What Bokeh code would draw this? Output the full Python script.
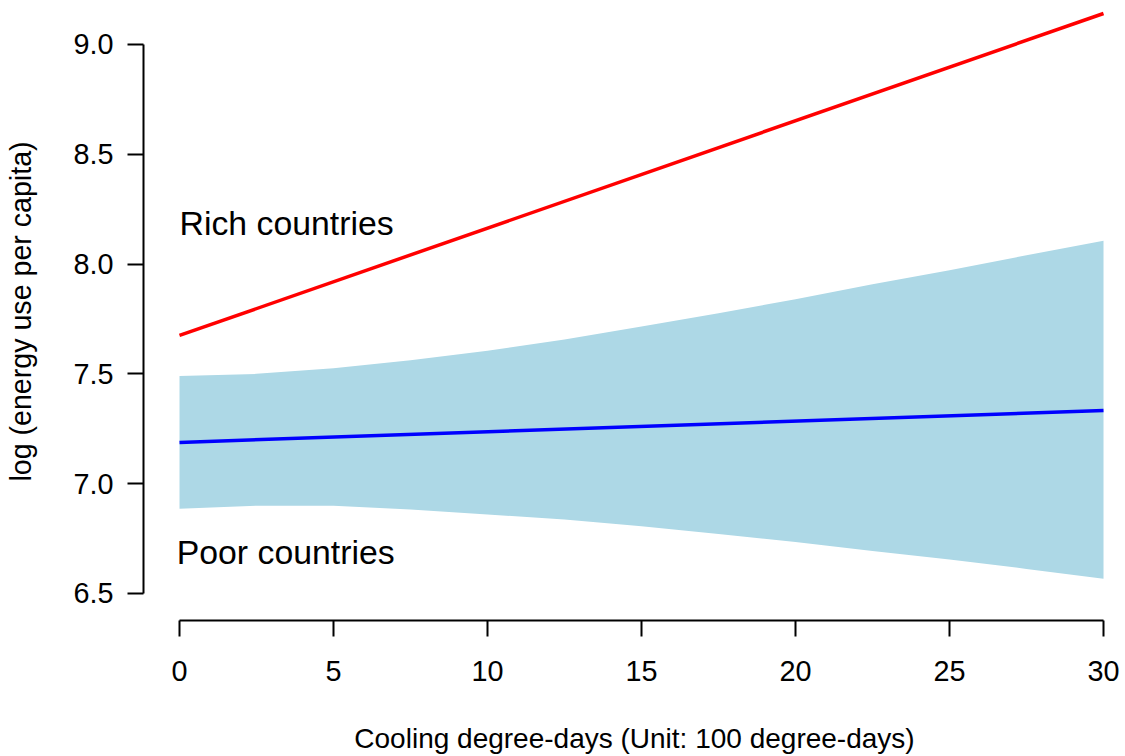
from bokeh.plotting import figure
from bokeh.models import Range1d, FixedTicker, PrintfTickFormatter, Label
from bokeh.embed import file_html
from bokeh.resources import INLINE

# ---- data ----
cdd = [0, 2.5, 5, 7.5, 10, 12.5, 15, 17.5, 20, 22.5, 25, 27.5, 30]
band_upper = [7.490, 7.500, 7.526, 7.562, 7.605, 7.657, 7.716, 7.776, 7.840,
              7.908, 7.972, 8.040, 8.106]
band_lower = [6.886, 6.900, 6.900, 6.882, 6.860, 6.837, 6.806, 6.771, 6.735,
              6.693, 6.655, 6.612, 6.567]

fit_x = [0, 30]
rich_fit = [7.675, 9.141]
poor_fit = [7.188, 7.333]

x_ticks = [0, 5, 10, 15, 20, 25, 30]
y_ticks = [6.5, 7.0, 7.5, 8.0, 8.5, 9.0]

x_title = "Cooling degree-days (Unit: 100 degree-days)"
y_title = "log (energy use per capita)"
rich_label = "Rich countries"
poor_label = "Poor countries"

# ---- layout ----
W, H = 1125, 756
LEFT, RIGHT, TOP, BOTTOM = 143, 0, 2, 136
X0, X1 = -1.169, 30.714
Y0, Y1 = 6.377, 9.191

FONT = "Liberation Sans"
TICK_SIZE = "28.8px"
LB_SIZE = "33.8px"

p = figure(width=W, height=H, output_backend="svg", toolbar_location=None,
           x_range=Range1d(X0, X1), y_range=Range1d(Y0, Y1),
           min_border_left=LEFT, min_border_right=RIGHT,
           min_border_top=TOP, min_border_bottom=BOTTOM)
p.outline_line_color = None
p.grid.visible = False
p.background_fill_color = "white"
p.border_fill_color = "white"

p.varea(x=cdd, y1=band_lower, y2=band_upper, fill_color="#ADD8E6", fill_alpha=1.0)
p.line(fit_x, poor_fit, line_color="#0000FF", line_width=3.5)
p.line(fit_x, rich_fit, line_color="#FF0000", line_width=3.5)

for ax, ticks, bounds, fmt, standoff, title, tsize, tstand in (
        (p.xaxis, x_ticks, (0, 30), "%d", 24, x_title, "28px", 39),
        (p.yaxis, y_ticks, (6.5, 9.0), "%.1f", 14, y_title, "28.6px", 33)):
    ax.ticker = FixedTicker(ticks=ticks)
    ax.bounds = bounds
    ax.formatter = PrintfTickFormatter(format=fmt)
    ax.axis_line_color = "black"
    ax.axis_line_width = 2
    ax.major_tick_line_color = "black"
    ax.major_tick_line_width = 2
    ax.major_tick_out = 16
    ax.major_tick_in = 0
    ax.minor_tick_line_color = None
    ax.major_label_text_font = FONT
    ax.major_label_text_font_size = TICK_SIZE
    ax.major_label_text_color = "black"
    ax.major_label_standoff = standoff
    ax.axis_label = title
    ax.axis_label_text_font = FONT
    ax.axis_label_text_font_size = tsize
    ax.axis_label_text_font_style = "normal"
    ax.axis_label_text_color = "black"
    ax.axis_label_standoff = tstand

# in-plot labels
p.add_layout(Label(x=0, y=8.185, text=rich_label, text_align="left",
                   text_baseline="alphabetic", text_font=FONT,
                   text_font_size=LB_SIZE, text_color="black"))
p.add_layout(Label(x=-0.09, y=6.690, text=poor_label, text_align="left",
                   text_baseline="alphabetic", text_font=FONT,
                   text_font_size=LB_SIZE, text_color="black"))

open("out.html", "w").write(file_html(p, INLINE))
